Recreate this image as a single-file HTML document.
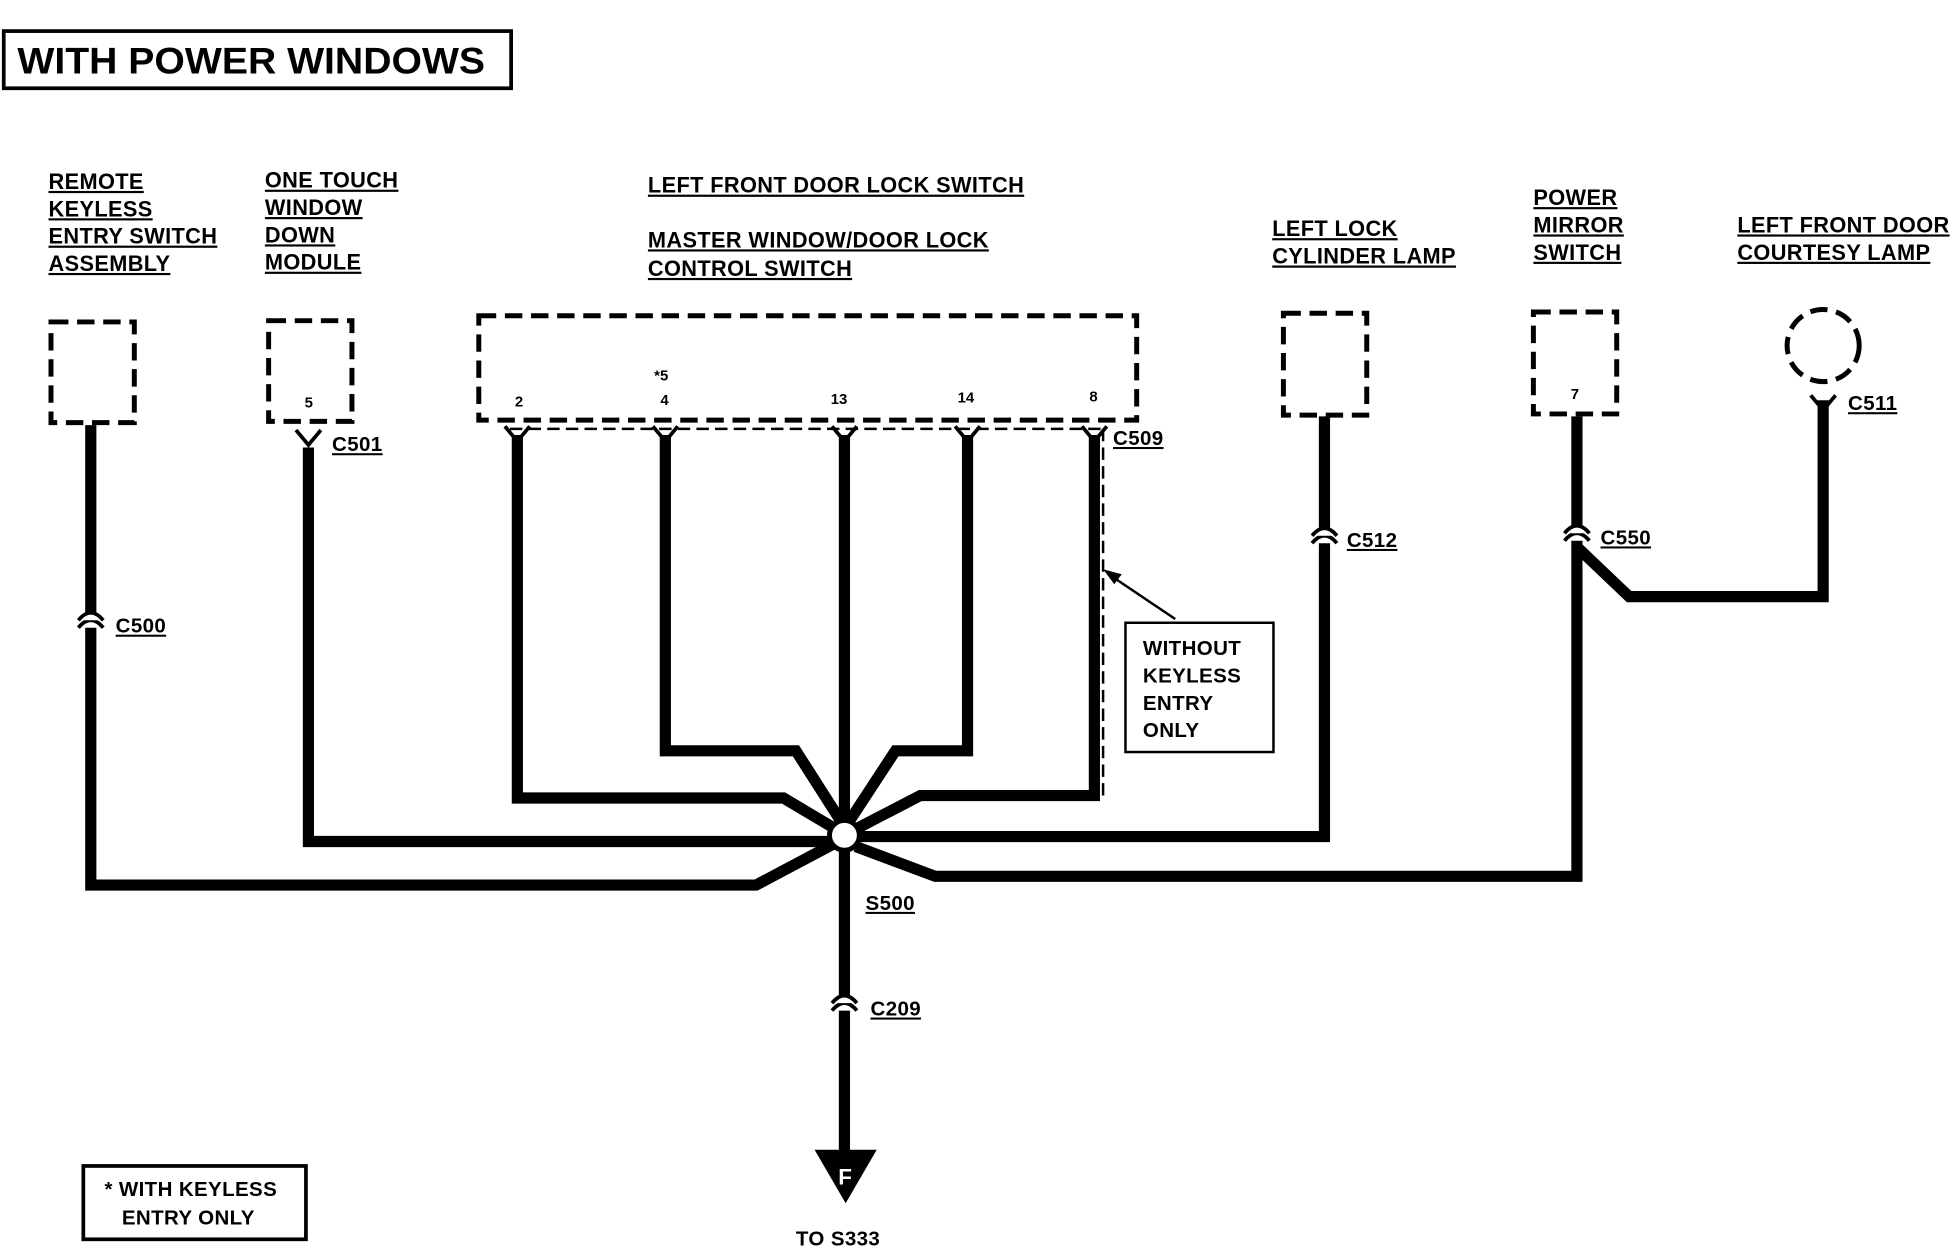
<!DOCTYPE html>
<html><head><meta charset="utf-8"><style>
html,body{margin:0;padding:0;background:#fff;}
svg{display:block;}
text{font-family:"Liberation Sans",sans-serif;font-weight:bold;fill:#000;}
</style></head><body>
<svg width="1950" height="1248" viewBox="0 0 1568 1004" preserveAspectRatio="none" xmlns="http://www.w3.org/2000/svg">
<rect x="3" y="25" width="408" height="46" fill="none" stroke="#000" stroke-width="3"/>
<text x="14" y="59" font-size="30" textLength="376" lengthAdjust="spacingAndGlyphs">WITH POWER WINDOWS</text>

<g font-size="17.5" letter-spacing="0.3">
<text x="39" y="152" text-decoration="underline">REMOTE</text>
<text x="39" y="174" text-decoration="underline">KEYLESS</text>
<text x="39" y="196" text-decoration="underline">ENTRY SWITCH</text>
<text x="39" y="218" text-decoration="underline">ASSEMBLY</text>
<text x="213" y="151" text-decoration="underline">ONE TOUCH</text>
<text x="213" y="173" text-decoration="underline">WINDOW</text>
<text x="213" y="195" text-decoration="underline">DOWN</text>
<text x="213" y="217" text-decoration="underline">MODULE</text>
<text x="521" y="155" text-decoration="underline">LEFT FRONT DOOR LOCK SWITCH</text>
<text x="521" y="199" text-decoration="underline">MASTER WINDOW/DOOR LOCK</text>
<text x="521" y="222" text-decoration="underline">CONTROL SWITCH</text>
<text x="1023" y="190" text-decoration="underline">LEFT LOCK</text>
<text x="1023" y="212" text-decoration="underline">CYLINDER LAMP</text>
<text x="1233" y="165" text-decoration="underline">POWER</text>
<text x="1233" y="187" text-decoration="underline">MIRROR</text>
<text x="1233" y="209" text-decoration="underline">SWITCH</text>
<text x="1397" y="187" text-decoration="underline">LEFT FRONT DOOR</text>
<text x="1397" y="209" text-decoration="underline">COURTESY LAMP</text>
</g>

<g fill="none" stroke="#000" stroke-width="4" stroke-dasharray="14,7">
<rect x="41" y="259" width="67" height="81"/>
<rect x="216" y="258" width="67" height="81"/>
<rect x="385" y="254" width="529" height="84"/>
<rect x="1032" y="252" width="67" height="82"/>
<rect x="1233" y="251" width="67" height="82"/>
<circle cx="1466" cy="278" r="29"/>
</g>
<g fill="none" stroke="#000" stroke-width="2" stroke-dasharray="10,5">
<line x1="410" y1="345" x2="885" y2="345"/>
<line x1="887" y1="345" x2="887" y2="640"/>
</g>

<g font-size="12">
<text x="414" y="327">2</text>
<text x="531" y="326">4</text>
<text x="526" y="306">*5</text>
<text x="668" y="325">13</text>
<text x="770" y="324">14</text>
<text x="876" y="323">8</text>
<text x="245" y="328">5</text>
<text x="1263" y="321">7</text>
</g>

<g fill="none" stroke="#000" stroke-width="9" stroke-linejoin="miter">
<polyline points="73,342 73,712 608,712 672,678"/>
<polyline points="248,360 248,677 670,677"/>
<polyline points="416,350 416,642 630,642 672,667"/>
<polyline points="535,350 535,604 640,604 677,662"/>
<polyline points="679,350 679,930"/>
<polyline points="778,350 778,604 720,604 682,662"/>
<polyline points="880,350 880,640 740,640 688,667"/>
<polyline points="1065,335 1065,673 688,673"/>
<polyline points="1268,335 1268,705 752,705 688,681"/>
<polyline points="1466,322 1466,480 1310,480 1268,440"/>
</g>
<circle cx="679" cy="672" r="12" fill="#fff" stroke="#000" stroke-width="4"/>

<g fill="#fff" stroke="#000" stroke-width="3">
<path d="M63,505 Q73,493 83,505"/><path d="M63,499 Q73,487 83,499"/>
<path d="M1055,437 Q1065,425 1075,437"/><path d="M1055,431 Q1065,419 1075,431"/>
<path d="M1258,435 Q1268,423 1278,435"/><path d="M1258,429 Q1268,417 1278,429"/>
<path d="M669,813 Q679,801 689,813"/><path d="M669,807 Q679,795 689,807"/>
</g>
<g fill="none" stroke="#000" stroke-width="3">
<path d="M238,346 L248,358 L258,346"/>
<path d="M406,343 L416,355 L426,343"/>
<path d="M525,343 L535,355 L545,343"/>
<path d="M669,343 L679,355 L689,343"/>
<path d="M768,343 L778,355 L788,343"/>
<path d="M870,343 L880,355 L890,343"/>
<path d="M1456,318 L1466,330 L1476,318"/>
</g>

<g font-size="16.5" letter-spacing="0.3">
<text x="93" y="509" text-decoration="underline">C500</text>
<text x="267" y="363" text-decoration="underline">C501</text>
<text x="895" y="358" text-decoration="underline">C509</text>
<text x="1083" y="440" text-decoration="underline">C512</text>
<text x="1287" y="438" text-decoration="underline">C550</text>
<text x="1486" y="330" text-decoration="underline">C511</text>
<text x="696" y="732" text-decoration="underline">S500</text>
<text x="700" y="817" text-decoration="underline">C209</text>
<text x="640" y="1002">TO S333</text>
</g>

<polygon points="655,925 705,925 680,968" fill="#000"/>
<text x="674" y="953" font-size="18" style="fill:#fff">F</text>

<line x1="945" y1="498" x2="893" y2="463" stroke="#000" stroke-width="2"/>
<polygon points="887,458 902,462 896,470" fill="#000"/>
<rect x="905" y="501" width="119" height="104" fill="none" stroke="#000" stroke-width="2"/>
<g font-size="16.5" letter-spacing="0.3">
<text x="919" y="527">WITHOUT</text>
<text x="919" y="549">KEYLESS</text>
<text x="919" y="571">ENTRY</text>
<text x="919" y="593">ONLY</text>
</g>

<rect x="67" y="938" width="179" height="59" fill="none" stroke="#000" stroke-width="3"/>
<text x="84" y="962" font-size="16.5" letter-spacing="0.3">* WITH KEYLESS</text>
<text x="98" y="985" font-size="16.5" letter-spacing="0.3">ENTRY ONLY</text>
</svg>
</body></html>
